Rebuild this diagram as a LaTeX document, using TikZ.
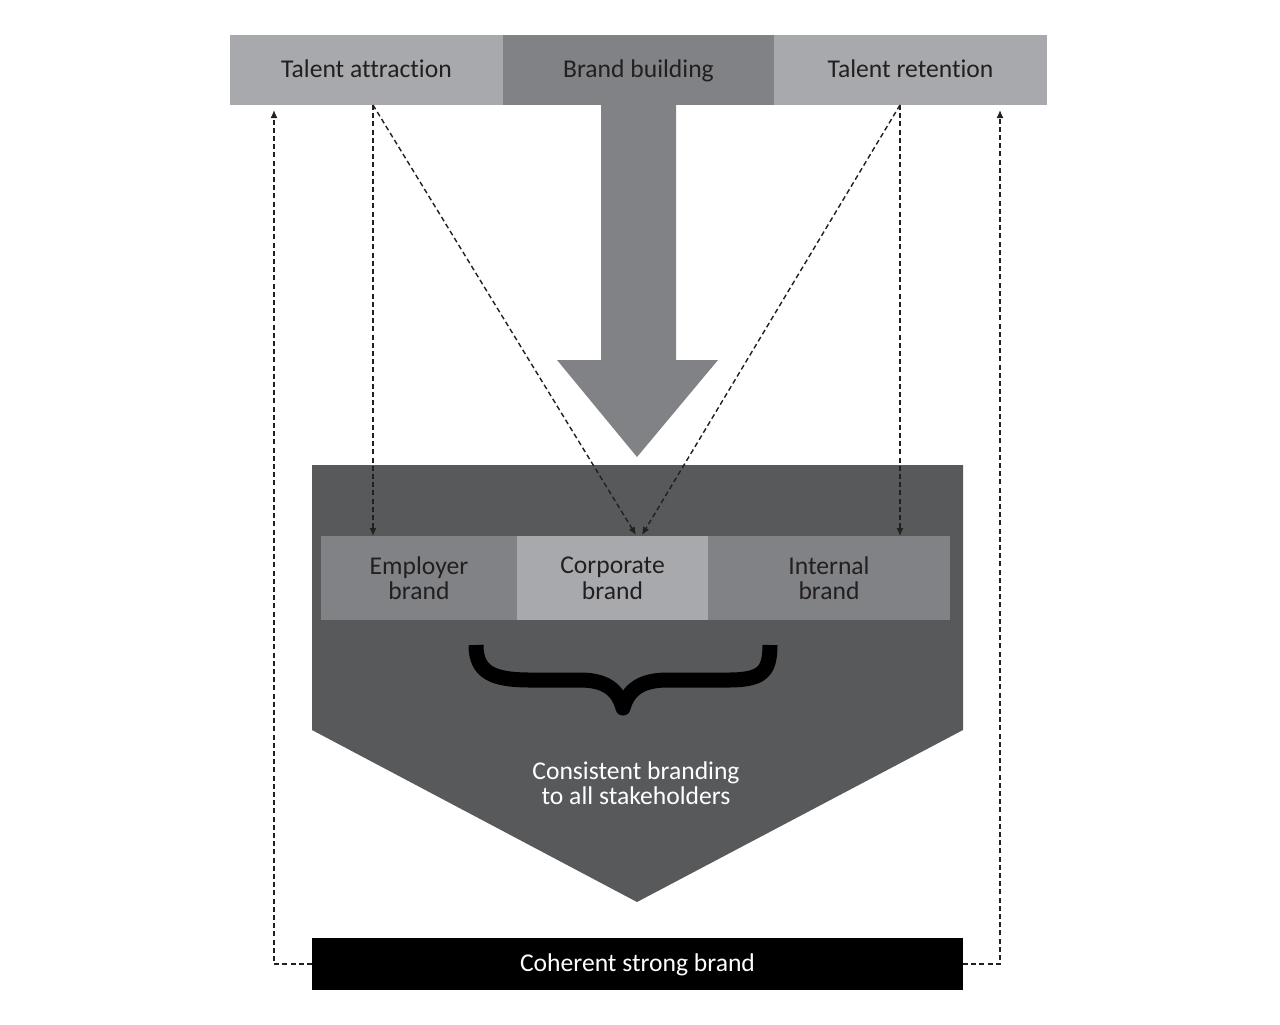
\documentclass[tikz,border=0pt]{standalone}
\usepackage{fontspec}
\setmainfont[Ligatures=NoCommon]{Carlito}
\usepackage{tikz}
\usetikzlibrary{calc,arrows.meta}

\definecolor{lightgrey}{HTML}{A7A9AC}
\definecolor{midgrey}{HTML}{808285}
\definecolor{darkgrey}{HTML}{58595B}
\definecolor{inkline}{HTML}{231F20}

\begin{document}
\begin{tikzpicture}[x=0.5pt,y=-0.5pt,
    box/.style={inner sep=0pt, outer sep=0pt, align=center,
      font=\fontsize{12.8}{12.8}\selectfont, text=inkline},
    bar/.style={box, text height=0.8em, text depth=0.1em},
    dasharrow/.style={draw=inkline, line width=0.7pt, dash pattern=on 2.5pt off 1.6pt,
      -{Latex[length=4pt,width=3.5pt]}}]
  \def\u{0.5pt}

  \useasboundingbox (0,0) rectangle (1280,1024);

  % top bar
  \node[bar, fill=lightgrey, minimum width=273*\u, minimum height=70*\u] (attr)  at (366.5, 70) {Talent attraction};
  \node[bar, fill=midgrey,   minimum width=271*\u, minimum height=70*\u] (build) at (638.5, 70) {Brand building};
  \node[bar, fill=lightgrey, minimum width=273*\u, minimum height=70*\u] (ret)   at (910.5, 70) {Talent retention};

  % big arrow
  \fill[midgrey] (601,105) -- (676,105) -- (676,360) -- (718,360) -- (637,457)
    -- (557,360) -- (601,360) -- cycle;

  % pentagon
  \fill[darkgrey] (312,465) -- (963,465) -- (963,730) -- (637,902) -- (312,730) -- cycle;

  % inner boxes
  \node[box, fill=midgrey,   minimum width=196*\u, minimum height=84*\u] (emp)  at (419, 578)   {Employer\\brand};
  \node[box, fill=lightgrey, minimum width=191*\u, minimum height=84*\u] (corp) at (612.5, 578) {Corporate\\brand};
  \node[box, fill=midgrey,   minimum width=242*\u, minimum height=84*\u] (int)  at (829, 578)   {Internal\\brand};

  % brace
  \draw[black, line width=15*\u, line join=round] (476,645) .. controls (476,672) and (492,680) .. (530,680)
    -- (580,680) .. controls (606,680) and (618,690) .. (623,708)
    .. controls (628,690) and (641,680) .. (667,680) -- (728,680)
    .. controls (762,680) and (770,672) .. (770,645);

  \node[box, text=white] (consist) at (636, 783) {Consistent branding\\to all stakeholders};

  % bottom bar
  \node[bar, fill=black, text=white, minimum width=651*\u, minimum height=52*\u] (coherent) at (637.5, 964) {Coherent strong brand};

  % dashed links
  \coordinate (ta) at (373, 105);
  \coordinate (tr) at (900, 105);
  \coordinate (cl) at (636, 535);
  \coordinate (cr) at (642, 535);
  \coordinate (fl) at (274, 110);
  \coordinate (fr) at (1000, 110);

  \draw[dasharrow] (ta) -- (ta |- emp.north);
  \draw[dasharrow] (ta) -- (cl);
  \draw[dasharrow] (tr) -- (tr |- int.north);
  \draw[dasharrow] (tr) -- (cr);
  \draw[dasharrow] (coherent.west) -| (fl);
  \draw[dasharrow] (coherent.east) -| (fr);
\end{tikzpicture}
\end{document}
